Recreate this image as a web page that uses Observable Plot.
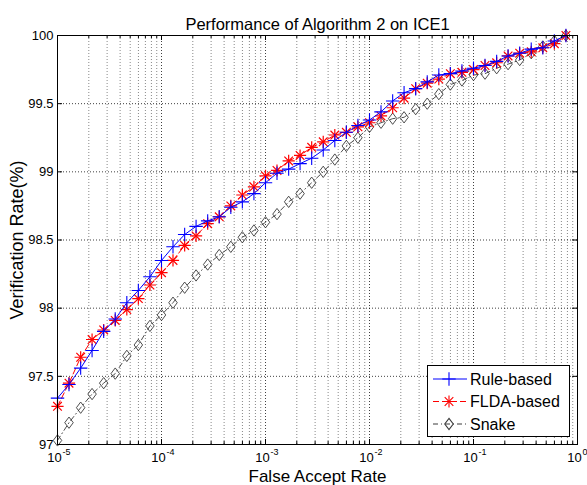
<!DOCTYPE html>
<html>
<head>
<meta charset="utf-8">
<script src="https://cdn.jsdelivr.net/npm/d3@7"></script>
<script src="https://cdn.jsdelivr.net/npm/@observablehq/plot@0.6"></script>
<style>
  html, body { margin: 0; padding: 0; background: #fff; }
  #wrap { position: relative; width: 587px; height: 485px; }
</style>
</head>
<body>
<div id="wrap"></div>
<script>
// ---- data ----
const titleText = "Performance of Algorithm 2 on ICE1";
const xLabel = "False Accept Rate";
const yLabel = "Verification Rate(%)";

const far = [
  1e-5, 1.29e-5, 1.67e-5, 2.15e-5, 2.78e-5, 3.59e-5, 4.64e-5, 5.99e-5, 7.74e-5,
  1e-4, 1.29e-4, 1.67e-4, 2.15e-4, 2.78e-4, 3.59e-4, 4.64e-4, 5.99e-4, 7.74e-4,
  1e-3, 1.29e-3, 1.67e-3, 2.15e-3, 2.78e-3, 3.59e-3, 4.64e-3, 5.99e-3, 7.74e-3,
  1e-2, 1.29e-2, 1.67e-2, 2.15e-2, 2.78e-2, 3.59e-2, 4.64e-2, 5.99e-2, 7.74e-2,
  0.1, 0.129, 0.167, 0.215, 0.278, 0.359, 0.464, 0.599, 0.774
];
const ruleBased = [
  97.34, 97.44, 97.56, 97.69, 97.83, 97.92, 98.04, 98.13, 98.23, 98.35, 98.45, 98.54,
  98.60, 98.64, 98.67, 98.74, 98.78, 98.84, 98.92, 98.99, 99.02, 99.06, 99.10, 99.16,
  99.23, 99.29, 99.34, 99.38,
  99.44, 99.52, 99.58, 99.61, 99.66, 99.71, 99.72, 99.74, 99.76, 99.78, 99.81, 99.85, 99.87, 99.90, 99.91, 99.96, 100
];
const fldaBased = [
  97.28, 97.45, 97.64, 97.77, 97.84, 97.91, 97.99, 98.07, 98.17, 98.26, 98.35, 98.46,
  98.53, 98.62, 98.67, 98.75, 98.83, 98.89, 98.97, 99.01, 99.08, 99.12, 99.18, 99.22,
  99.27, 99.29, 99.33, 99.36,
  99.41, 99.47, 99.54, 99.61, 99.65, 99.68, 99.72, 99.73, 99.75, 99.78, 99.80, 99.85, 99.87, 99.88, 99.91, 99.94, 100
];
const snake = [
  97.03, 97.16, 97.27, 97.37, 97.45, 97.52, 97.65, 97.73, 97.87, 97.95, 98.04, 98.15,
  98.24, 98.32, 98.39, 98.45, 98.52, 98.57, 98.63, 98.69, 98.78, 98.84, 98.92, 99.00,
  99.09, 99.19, 99.25, 99.33,
  99.36, 99.39, 99.40, 99.46, 99.50, 99.57, 99.64, 99.67, 99.71, 99.72, 99.76, 99.79, 99.82, 99.87, 99.92, 99.96, 100
];
const seriesNames = ["Rule-based", "FLDA-based", "Snake"];

const xMajor = [1e-5, 1e-4, 1e-3, 1e-2, 1e-1, 1];
const xExp = ["-5", "-4", "-3", "-2", "-1", "0"];
const xMinor = [
  2e-5, 3e-5, 4e-5, 5e-5, 6e-5, 7e-5, 8e-5, 9e-5,
  2e-4, 3e-4, 4e-4, 5e-4, 6e-4, 7e-4, 8e-4, 9e-4,
  2e-3, 3e-3, 4e-3, 5e-3, 6e-3, 7e-3, 8e-3, 9e-3,
  2e-2, 3e-2, 4e-2, 5e-2, 6e-2, 7e-2, 8e-2, 9e-2,
  0.2, 0.3, 0.4, 0.5, 0.6, 0.7, 0.8, 0.9
];
const yTicks = [97, 97.5, 98, 98.5, 99, 99.5, 100];
const yTickLabels = ["97", "97.5", "98", "98.5", "99", "99.5", "100"];

// ---- build ----
const W = 587, H = 485;
const mL = 57, mR = 10, mT = 35, mB = 41;
const pw = W - mL - mR, ph = H - mT - mB;
const FONT = "Liberation Sans, Arial, Helvetica, sans-serif";

const rows = (ys) => far.map((x, i) => ({x, y: ys[i]}));
const dRule = rows(ruleBased), dFlda = rows(fldaBased), dSnake = rows(snake);
const inner = (lo, hi) => (d) => d > lo && d < hi;

const blue = "#0000ff", red = "#ff0000", snakeCol = "#3a3a3a";

// MATLAB-like diamond marker: a little taller than wide
const tallDiamond = {
  draw(ctx, size) {
    const r = Math.sqrt(size) * 0.62;
    ctx.moveTo(0, -r * 1.2);
    ctx.lineTo(r * 0.9, 0);
    ctx.lineTo(0, r * 1.2);
    ctx.lineTo(-r * 0.9, 0);
    ctx.closePath();
  }
};

const chart = Plot.plot({
  width: W, height: H,
  marginLeft: mL, marginRight: mR, marginTop: mT, marginBottom: mB,
  style: {fontFamily: FONT, fontSize: "13px", background: "#fff", color: "#000"},
  x: {type: "log", domain: [1e-5, 1], axis: null},
  y: {domain: [97, 100], axis: null},
  marks: [
    // grid
    Plot.ruleX(xMinor, {x: d => d, stroke: "#888", strokeWidth: 1, strokeDasharray: "1,2"}),
    Plot.ruleX(xMajor.filter(inner(1e-5, 1)), {x: d => d, stroke: "#000", strokeOpacity: 0.75, strokeDasharray: "1,2"}),
    Plot.ruleY(yTicks.filter(inner(97, 100)), {y: d => d, stroke: "#000", strokeOpacity: 0.75, strokeDasharray: "1,2"}),
    // snake
    Plot.line(dSnake, {x: "x", y: "y", stroke: snakeCol, strokeWidth: 0.9, strokeDasharray: "5,3,1,3"}),
    Plot.dot(dSnake, {x: "x", y: "y", symbol: tallDiamond, r: 4.3, stroke: snakeCol, strokeWidth: 0.9, fill: "none"}),
    // FLDA
    Plot.line(dFlda, {x: "x", y: "y", stroke: red, strokeWidth: 1, strokeDasharray: "6,3"}),
    Plot.dot(dFlda, {x: "x", y: "y", symbol: "plus", r: 4, stroke: red, strokeWidth: 1.2}),
    Plot.dot(dFlda, {x: "x", y: "y", symbol: "times", r: 4, stroke: red, strokeWidth: 1.2}),
    // Rule-based
    Plot.line(dRule, {x: "x", y: "y", stroke: blue, strokeWidth: 1}),
    Plot.dot(dRule, {x: "x", y: "y", symbol: "plus", r: 4.4, stroke: blue, strokeWidth: 1.1}),
    // frame
    Plot.frame({stroke: "#000", strokeWidth: 1}),
    // inward ticks
    Plot.ruleX(xMajor, {x: d => d, stroke: "#000", insetTop: ph - 5}),
    Plot.ruleX(xMajor, {x: d => d, stroke: "#000", insetBottom: ph - 5}),
    Plot.ruleX(xMinor, {x: d => d, stroke: "#000", insetTop: ph - 3}),
    Plot.ruleX(xMinor, {x: d => d, stroke: "#000", insetBottom: ph - 3}),
    Plot.ruleY(yTicks, {y: d => d, stroke: "#000", insetRight: pw - 5}),
    Plot.ruleY(yTicks, {y: d => d, stroke: "#000", insetLeft: pw - 5}),
    // tick labels
    Plot.text(yTicks, {y: d => d, frameAnchor: "left", dx: -4, textAnchor: "end", lineAnchor: "middle", text: (d, i) => yTickLabels[i], fontSize: 13, fill: "#000"}),
    Plot.text(xMajor, {x: d => d, frameAnchor: "bottom", dy: 17, dx: -3, textAnchor: "middle", lineAnchor: "bottom", text: () => "10", fontSize: 13, fill: "#000"}),
    Plot.text(xMajor, {x: d => d, frameAnchor: "bottom", dy: 10, dx: 5, textAnchor: "start", lineAnchor: "bottom", text: (d, i) => xExp[i], fontSize: 9, fill: "#000"}),
    // title and axis labels
    Plot.text([titleText], {frameAnchor: "top", dy: -17, textAnchor: "middle", lineAnchor: "top", text: d => d, fontSize: 16.5, fill: "#000"}),
    Plot.text([xLabel], {frameAnchor: "bottom", dy: 37.5, textAnchor: "middle", lineAnchor: "bottom", text: d => d, fontSize: 17, fill: "#000"}),
    Plot.text([yLabel], {frameAnchor: "left", dx: -40, rotate: -90, textAnchor: "middle", lineAnchor: "middle", text: d => d, fontSize: 18, fill: "#000"})
  ]
});

const wrap = document.getElementById("wrap");
wrap.appendChild(chart);

// ---- legend (real text, drawn in SVG) ----
const lw = 142, lh = 71;
const leg = d3.create("svg").attr("width", lw + 1).attr("height", lh + 1)
  .style("font-family", FONT).style("position", "absolute").style("left", "427px").style("top", "365px");
leg.append("rect").attr("x", 0.5).attr("y", 0.5).attr("width", lw).attr("height", lh)
  .attr("fill", "#fff").attr("stroke", "#000");
const legStyles = [
  {color: blue, dash: null, syms: [[d3.symbolPlus, 4.4]]},
  {color: red, dash: "6,3", syms: [[d3.symbolPlus, 4], [d3.symbolTimes, 4]]},
  {color: snakeCol, dash: "5,3,1,3", syms: [[tallDiamond, 4.3]]}
];
seriesNames.forEach((name, i) => {
  const cy = 14 + i * 22.5;
  const s = legStyles[i];
  const g = leg.append("g");
  g.append("line").attr("x1", 6).attr("x2", 40).attr("y1", cy).attr("y2", cy)
    .attr("stroke", s.color).attr("stroke-dasharray", s.dash);
  s.syms.forEach(([sym, r]) => {
    g.append("path").attr("transform", `translate(22,${cy})`)
      .attr("d", d3.symbol(sym, Math.PI * r * r)())
      .attr("fill", "none").attr("stroke", s.color).attr("stroke-width", 1.1);
  });
  g.append("text").attr("x", 43).attr("y", cy).attr("dy", "0.36em")
    .attr("font-size", 16).attr("fill", "#000").text(name);
});
wrap.appendChild(leg.node());
</script>
</body>
</html>
